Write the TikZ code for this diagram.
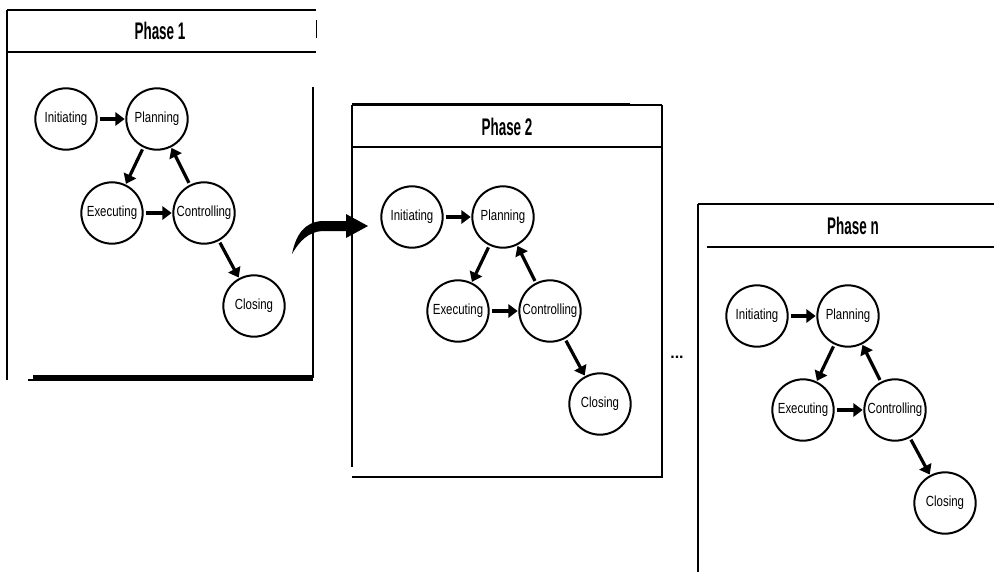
\documentclass[tikz,border=0pt]{standalone}
\usepackage{fontspec}
\setmainfont{Liberation Sans}
\newfontfamily\nodefont[FakeStretch=0.78]{Liberation Sans}
\newfontfamily\headfont[FakeStretch=0.56]{Liberation Sans}
\usetikzlibrary{arrows.meta}
\tikzset{
  stage/.style={circle, draw, line width=1.5pt, minimum size=46pt, inner sep=0pt,
    font=\nodefont\fontsize{11}{13}\selectfont},
  flow/.style={line width=2.4pt, -{Triangle[length=7pt,width=10pt]}, shorten <=1.5pt, shorten >=0.5pt},
  frame/.style={line width=1.4pt},
  header/.style={font=\headfont\bfseries\fontsize{18}{20}\selectfont},
  pics/cycle/.style={code={
    \node[stage] (-ini) at (0,0) {Initiating};
    \node[stage] (-pla) at (91,0) {Planning};
    \node[stage] (-exe) at (46,94) {Executing};
    \node[stage] (-con) at (138,94) {Controlling};
    \node[stage] (-clo) at (188,187) {Closing};
    \draw[flow] (-ini) -- (-pla);
    \draw[flow] (-pla) -- (-exe);
    \draw[flow] (-exe) -- (-con);
    \draw[flow] (-con) -- (-pla);
    \draw[flow] (-con) -- (-clo);
  }}
}
\begin{document}
\begin{tikzpicture}[x=0.75pt, y=-0.75pt]
\useasboundingbox (0,0) rectangle (994,572);

% Phase 1 panel
\draw[frame] (7,10) -- (316,10);
\draw[frame] (7,52) -- (316,52);
\draw[line width=0.6pt] (316,20) -- (316,38);
\draw[frame] (7,10) -- (7,380);
\draw[frame] (313,87) -- (313,378);
\draw[line width=2.4pt] (313,377) -- (33,377);
\draw[line width=0.8pt] (313,380) -- (28,380);
\node[header] (h1) at (160,31) {Phase 1};
\pic (p1) at (66,119) {cycle};

% Phase 2 panel
\draw[frame] (352,105) -- (662,105);
\draw[line width=2.2pt] (352,104) -- (630,104);
\draw[frame] (352,147) -- (662,147);
\draw[frame] (352,105) -- (352,467);
\draw[frame] (662,105) -- (662,477) -- (352,477);
\node[header] (h2) at (507,127) {Phase 2};
\pic (p2) at (412,217) {cycle};

% Phase n panel
\draw[frame] (698,204) -- (994,204);
\draw[frame] (707,247) -- (994,247);
\draw[frame] (698,204) -- (698,572);
\node[header] (hn) at (853,226) {Phase n};
\pic (pn) at (757,316) {cycle};

% curved transition arrow
\coordinate (arrS) at (292,254);
\coordinate (arrT) at (368,226);
\fill (arrS) .. controls (296,234) and (305,222) .. (322,221) -- (346,221) -- (346,214)
  -- (arrT) -- (346,238) -- (346,231) -- (322,231)
  .. controls (309,232) and (300,240) .. (arrS) -- cycle;

% ellipsis
\node[font=\bfseries\fontsize{12}{12}\selectfont] (dots) at (677,357) {...};
\end{tikzpicture}
\end{document}
